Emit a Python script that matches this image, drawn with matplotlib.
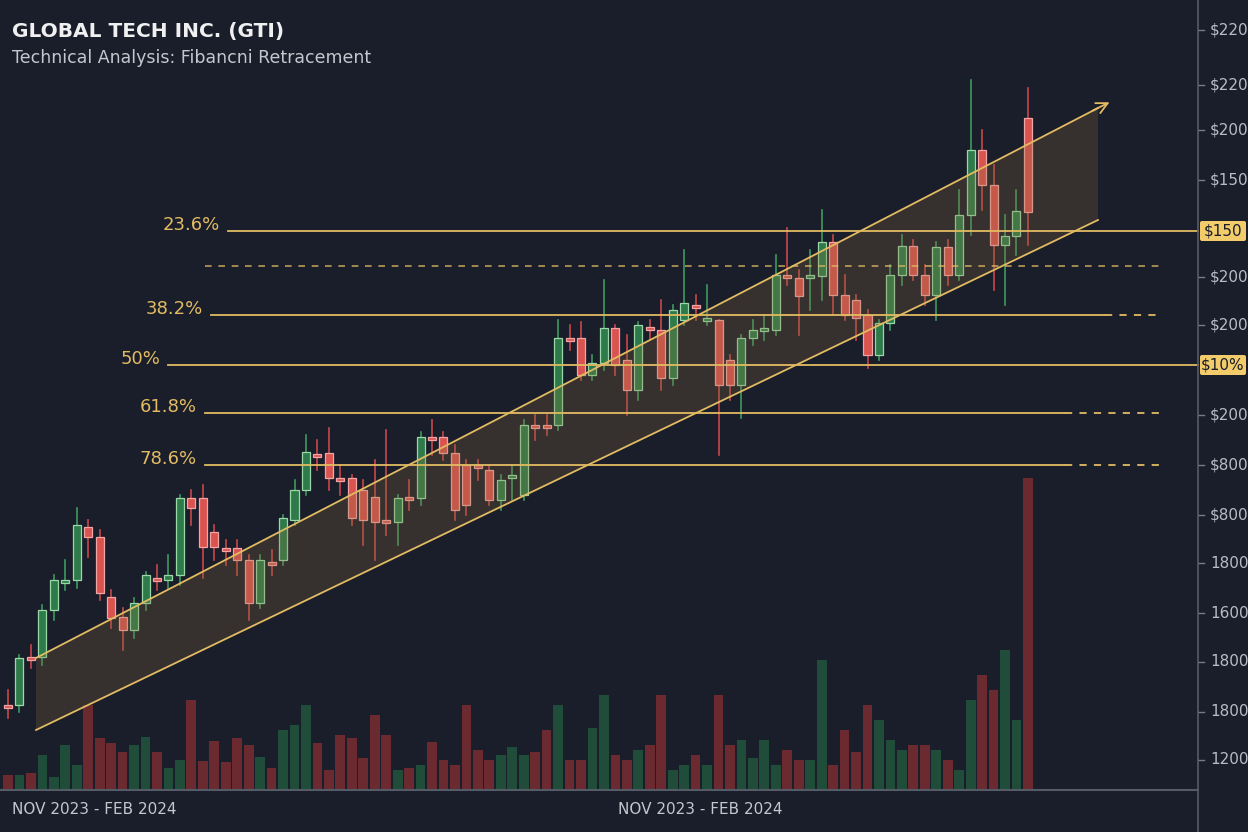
import matplotlib
matplotlib.use("Agg")
import matplotlib.pyplot as plt
from matplotlib.patches import Rectangle, FancyBboxPatch
import numpy as np

# OHLC in chart-pixel price units (smaller = higher price)
opens  = [705,705,657,657,610,582,580,527,537,597,617,630,603,578,580,575,498,498,532,548,548,560,603,562,560,520,490,454,453,478,
          478,490,497,520,522,497,498,437,437,453,465,465,470,500,478,495,425,425,425,338,338,375,363,328,360,390,327,330,378,320,
          305,320,320,360,385,338,330,330,275,278,276,276,242,295,300,315,355,323,275,246,275,295,247,275,215,150,185,245,236,118]
closes = [708,658,660,610,580,580,525,537,593,618,630,603,575,580,575,498,508,547,547,550,560,603,560,565,518,490,452,456,478,480,
          518,520,522,522,498,500,437,440,453,510,505,468,500,480,475,425,427,425,338,340,375,363,328,365,390,325,329,378,310,303,
          307,318,385,385,338,330,328,275,278,296,275,242,295,315,318,355,323,275,246,275,295,247,275,215,150,185,245,236,211,212]
highs  = [690,655,645,605,575,560,508,520,530,590,608,598,572,565,555,495,490,485,525,540,540,555,555,550,515,480,435,440,428,465,
          475,480,460,430,495,480,432,420,432,445,460,460,465,475,465,420,415,415,320,325,322,355,280,325,335,322,320,300,305,250,
          295,285,320,355,335,320,315,255,228,270,250,210,235,275,295,310,320,265,235,240,265,242,240,190,80,130,165,215,190,88]
lows   = [718,712,668,665,620,590,588,557,600,628,650,638,610,590,588,585,525,578,560,565,575,620,608,575,565,525,495,470,490,495,
          525,545,560,535,545,510,505,455,460,520,515,480,505,510,500,500,440,435,430,350,380,380,370,375,415,400,340,390,385,325,
          320,325,455,400,418,345,340,335,285,335,310,300,315,320,340,368,360,330,285,280,305,320,285,280,235,210,290,305,255,245]
volumes = [15,15,17,35,13,45,25,85,52,47,38,45,53,38,22,30,90,29,49,28,52,45,33,22,60,65,85,47,20,55,
           52,32,75,55,20,22,25,48,30,25,85,40,30,35,43,35,38,60,85,30,30,62,95,35,30,40,45,95,20,25,
           35,25,95,45,50,32,50,25,40,30,30,130,25,60,38,85,70,50,40,45,45,40,30,20,90,115,100,140,70,312]

fib_levels = ["23.6%", "38.2%", "50%", "61.8%", "78.6%"]
fib_y = [231, 315, 365, 413, 465]
fib_label_x = [220, 203, 160, 197, 197]
fib_solid_end = [1198, 1105, 1198, 1065, 1065]
tick_y = [30, 85, 130, 180, 277, 325, 415, 465, 515, 563, 613, 662, 712, 760]
tick_labels = ["$220", "$220", "$200", "$150", "$200", "$200", "$200", "$800", "$800",
               "1800", "1600", "1800", "1800", "1200"]
badges = [(231, "$150"), (365, "$10%")]

BG = "#1a1e2b"
GOLD = "#e2bb62"
fig = plt.figure(figsize=(12.48, 8.32), dpi=100, facecolor=BG)
ax = fig.add_axes([0, 0, 1, 1])
ax.set_facecolor(BG)
step = 11.46
ax.set_xlim(-8 / step, (1248 - 8) / step)
ax.set_ylim(832, 0)
ax.axis("off")

ov = fig.add_axes([0, 0, 1, 1], facecolor="none")
ov.set_xlim(0, 1248); ov.set_ylim(832, 0); ov.axis("off")

ux = [36, 1098]; uy = [658, 108]; ly = [730, 220]
ov.fill([36, 1098, 1098, 36], [uy[0], uy[1], ly[1], ly[0]], color="#8a6d3b", alpha=0.25, lw=0, zorder=1)
ov.plot(ux, uy, color=GOLD, lw=1.3, zorder=3)
ov.plot(ux, ly, color=GOLD, lw=1.3, zorder=3)
ov.annotate("", xy=(1112, 101), xytext=(1090, 112),
            arrowprops=dict(arrowstyle="->", color=GOLD, lw=1.3, mutation_scale=20), zorder=3)

for lab, y, lx, se in zip(fib_levels, fib_y, fib_label_x, fib_solid_end):
    ov.plot([lx + 8, se], [y, y], color=GOLD, lw=1.3, zorder=2)
    if se < 1198:
        ov.plot([se, 1160], [y, y], color=GOLD, lw=1.3, ls=(0, (4, 4)), zorder=2)
    ov.text(lx, y - 6, lab, color=GOLD, fontsize=13, ha="right", va="center")
ov.plot([205, 1160], [266, 266], color=GOLD, lw=1.2, ls=(0, (4, 4)), alpha=0.8, zorder=2)

baseline = 790
for i, (o, c, v) in enumerate(zip(opens, closes, volumes)):
    col = "#1f4d3a" if c < o else "#6b2a30"
    ax.bar(i, -v, bottom=baseline, width=0.85, color=col, zorder=1)

for i, (o, c, h, l) in enumerate(zip(opens, closes, highs, lows)):
    up = c < o
    fill = "#2f7a4a" if up else "#d9534f"
    edge = "#9ad8a8" if up else "#f2a5a5"
    wick = "#3e9a5e" if up else "#c84848"
    ax.plot([i, i], [h, l], color=wick, lw=1.2, zorder=4)
    top, bot = min(o, c), max(o, c)
    hgt = max(bot - top, 3)
    ax.add_patch(Rectangle((i - 0.35, top), 0.7, hgt, facecolor=fill, edgecolor=edge, lw=0.9, zorder=5))

ov.plot([0, 1198], [790, 790], color="#555b66", lw=1.5, zorder=6)
ov.plot([1198, 1198], [0, 832], color="#555b66", lw=1.2, zorder=6)
for y, t in zip(tick_y, tick_labels):
    ov.plot([1198, 1204], [y, y], color="#777d88", lw=1)
    ov.text(1210, y, t, color="#b8bcc4", fontsize=11, va="center", ha="left")
for y, t in badges:
    ov.add_patch(FancyBboxPatch((1200, y - 10), 46, 20, boxstyle="round,pad=0,rounding_size=2",
                                facecolor="#f2cc6b", edgecolor="none", zorder=7))
    ov.text(1223, y, t, color="#1a1e2b", fontsize=11, va="center", ha="center", zorder=8)

ov.text(12, 32, "GLOBAL TECH INC. (GTI)", color="#f0f0f0", fontsize=14.5, fontweight="bold", va="center")
ov.text(12, 58, "Technical Analysis: Fibancni Retracement", color="#c4c7cd", fontsize=12.5, va="center")
ov.text(12, 810, "NOV 2023 - FEB 2024", color="#c4c7cd", fontsize=11, va="center")
ov.text(618, 810, "NOV 2023 - FEB 2024", color="#c4c7cd", fontsize=11, va="center")

fig.savefig("out.png", dpi=100, facecolor=BG)
